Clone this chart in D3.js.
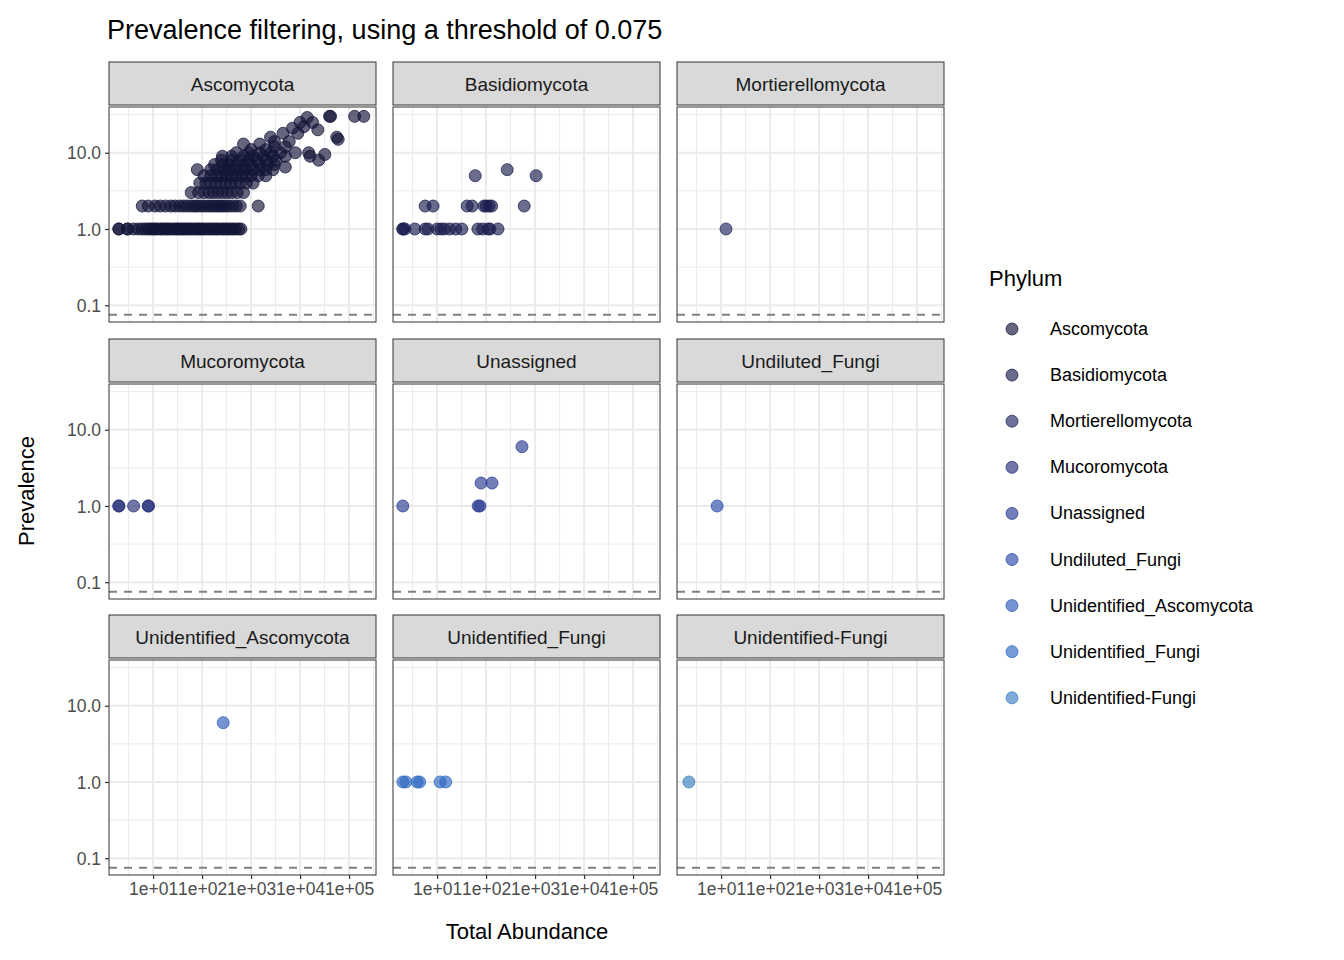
<!DOCTYPE html>
<html>
<head>
<meta charset="utf-8">
<script src="https://cdn.jsdelivr.net/npm/d3@7"></script>
<style>
  body { margin: 0; background: #fff; }
  text { font-family: "Liberation Sans", Arial, sans-serif; }
</style>
</head>
<body>
<svg id="chart" width="1344" height="960"></svg>
<script>
const phyla = ["Ascomycota", "Basidiomycota", "Mortierellomycota", "Mucoromycota", "Unassigned",
  "Undiluted_Fungi", "Unidentified_Ascomycota", "Unidentified_Fungi", "Unidentified-Fungi"];
const phylumColors = ["#131438", "#1a1d4e", "#202763", "#252f78", "#293a92", "#2b48aa", "#2c5bbb", "#2c68c2", "#3a7fc2"];
const xTicks = [10, 100, 1000, 10000, 100000];
const xTickLabels = ["1e+01", "1e+02", "1e+03", "1e+04", "1e+05"];
const yTicks = [0.1, 1, 10];
const yTickLabels = ["0.1", "1.0", "10.0"];
const threshold = 0.075;

// [total abundance, prevalence]
const ascomycota = [
  [2,1],[2,1],[3,1],[3,1],[4,1],[5,1],[6,1],[7,1],[8,1],[9,1],[10,1],[11,1],[12,1],[14,1],[15,1],[17,1],
  [19,1],[21,1],[24,1],[27,1],[30,1],[33,1],[37,1],[41,1],[45,1],[50,1],[56,1],[62,1],[70,1],[78,1],
  [85,1],[95,1],[105,1],[120,1],[135,1],[150,1],[170,1],[190,1],[210,1],[240,1],[270,1],[300,1],
  [340,1],[380,1],[430,1],[480,1],[560,1],[620,1],
  [6,2],[8,2],[11,2],[14,2],[18,2],[23,2],[28,2],[35,2],[42,2],[50,2],[60,2],[70,2],[80,2],[95,2],
  [110,2],[130,2],[150,2],[175,2],[200,2],[230,2],[260,2],[300,2],[350,2],[420,2],[500,2],[600,2],[1400,2],
  [60,3],[85,3],[110,3],[140,3],[170,3],[210,3],[260,3],[320,3],[400,3],[520,3],[700,3],
  [90,4],[120,4],[150,4],[190,4],[240,4],[300,4],[380,4],[480,4],[600,4],[800,4],[1100,4],
  [110,5],[150,5],[200,5],[250,5],[320,5],[400,5],[500,5],[650,5],[800,5],[1000,5],[1400,5],[2000,5],
  [80,6],[150,6],[200,6],[280,6],[350,6],[450,6],[600,6],[800,6],[1100,6],[1500,6],[2000,6],[2800,6],[5000,6.5],
  [180,7],[260,7],[350,7],[500,7],[700,7],[1000,7],[1500,7],[2200,7],[3000,7],
  [250,8],[400,8],[600,8],[900,8],[1300,8],[2000,8],[3200,8],
  [260,9],[400,9],[700,9],[1100,9],[1800,9],[2800,9],[5000,9],[16000,9],[32000,9.5],
  [500,10],[900,10],[1500,10],[2500,10],[4000,10],[8000,10],[15000,10],[24000,8],
  [1000,11],[2000,11],[3000,12],[5000,12],[700,13],[1500,13],[3000,14],[6000,14],[2500,16],[4500,18],
  [56000,16],[60000,15],[7000,21],[10000,25],[14000,29],[18000,25],[23000,20],[40000,30],[42000,30],
  [130000,30],[200000,30],[9000,18],[12000,22]
];
const basidiomycota = [
  [2,1],[2,1],[2.2,1],[3.5,1],[5.7,1],[6.5,1],[10,1],[12,1],[14,1],[18,1],[24,1],[32,1],[68,1],[85,1],
  [110,1],[120,1],[175,1],
  [5.7,2],[8.3,2],[41,2],[52,2],[91,2],[100,2],[115,2],[130,2],[600,2],
  [60,5],[1050,5],[270,6]
];
const mortierellomycota = [[12.6,1]];
const mucoromycota = [[2,1],[2,1],[4,1],[8,1],[8,1]];
const unassigned = [[2,1],[69,1],[75,1],[79,2],[132,2],[540,6]];
const undilutedFungi = [[8.3,1]];
const unidentifiedAscomycota = [[270,6]];
const unidentifiedFungi = [[2,1],[2.3,1],[3.9,1],[4.4,1],[11.5,1],[15,1]];
const unidentifiedFungiDash = [[2.2,1]];
const panelData = [ascomycota, basidiomycota, mortierellomycota, mucoromycota, unassigned,
  undilutedFungi, unidentifiedAscomycota, unidentifiedFungi, unidentifiedFungiDash];

const svg = d3.select("#chart");
const colX = [109, 393, 677], panelW = 267;
const rowTop = [62, 339, 615], stripH = 43, panelH = 215;

const x = d3.scaleLog().domain([Math.pow(10, 0.1), Math.pow(10, 5.55)]).range([0, panelW]);
const y = d3.scaleLog().domain([Math.pow(10, -1.22), Math.pow(10, 1.6)]).range([panelH, 0]);
const xMinor = [0.5, 1.5, 2.5, 3.5, 4.5, 5.5].map(e => Math.pow(10, e));
const yMinor = [-0.5, 0.5, 1.5].map(e => Math.pow(10, e));

svg.append("text").attr("x", 107).attr("y", 39).attr("font-size", 27).attr("fill", "#000")
  .text("Prevalence filtering, using a threshold of 0.075");

phyla.forEach((p, i) => {
  const col = i % 3, row = Math.floor(i / 3);
  const g = svg.append("g").attr("transform", `translate(${colX[col]},${rowTop[row]})`);
  g.append("rect").attr("width", panelW).attr("height", stripH)
    .attr("fill", "#d9d9d9").attr("stroke", "#333").attr("stroke-width", 1);
  g.append("text").attr("x", panelW / 2).attr("y", stripH / 2 + 7).attr("text-anchor", "middle")
    .attr("font-size", 19).attr("fill", "#1a1a1a").text(p);

  const pg = g.append("g").attr("transform", `translate(0,${stripH + 2})`);
  pg.append("defs").append("clipPath").attr("id", "clip" + i)
    .append("rect").attr("width", panelW).attr("height", panelH);
  const grid = pg.append("g");
  grid.selectAll(".xm").data(xMinor).join("line")
    .attr("x1", d => x(d)).attr("x2", d => x(d)).attr("y1", 0).attr("y2", panelH)
    .attr("stroke", "#ebebeb").attr("stroke-width", 1);
  grid.selectAll(".ym").data(yMinor).join("line")
    .attr("y1", d => y(d)).attr("y2", d => y(d)).attr("x1", 0).attr("x2", panelW)
    .attr("stroke", "#ebebeb").attr("stroke-width", 1);
  grid.selectAll(".xM").data(xTicks).join("line")
    .attr("x1", d => x(d)).attr("x2", d => x(d)).attr("y1", 0).attr("y2", panelH)
    .attr("stroke", "#ebebeb").attr("stroke-width", 2);
  grid.selectAll(".yM").data(yTicks).join("line")
    .attr("y1", d => y(d)).attr("y2", d => y(d)).attr("x1", 0).attr("x2", panelW)
    .attr("stroke", "#ebebeb").attr("stroke-width", 2);

  pg.append("line").attr("x1", 0).attr("x2", panelW).attr("y1", y(threshold)).attr("y2", y(threshold))
    .attr("stroke", "#808080").attr("stroke-width", 2).attr("stroke-dasharray", "8,7");

  pg.append("g").attr("clip-path", `url(#clip${i})`).selectAll("circle").data(panelData[i]).join("circle")
    .attr("cx", d => x(d[0])).attr("cy", d => y(d[1])).attr("r", 6)
    .attr("fill", phylumColors[i]).attr("fill-opacity", 0.65)
    .attr("stroke", phylumColors[i]).attr("stroke-opacity", 0.75).attr("stroke-width", 1);

  pg.append("rect").attr("width", panelW).attr("height", panelH)
    .attr("fill", "none").attr("stroke", "#333").attr("stroke-width", 1);

  if (col === 0) {
    const ya = pg.append("g").call(d3.axisLeft(y).tickValues(yTicks).tickFormat((d, k) => yTickLabels[k]).tickSize(4).tickPadding(4));
    ya.select(".domain").remove();
    ya.selectAll("line").attr("stroke", "#333").attr("stroke-width", 1.2);
    ya.selectAll("text").attr("font-size", 17.5).attr("fill", "#4d4d4d").attr("dy", "0.35em")
      .style("font-family", "'Liberation Sans', Arial, sans-serif");
  }
  if (row === 2) {
    const xa = pg.append("g").attr("transform", `translate(0,${panelH})`)
      .call(d3.axisBottom(x).tickValues(xTicks).tickFormat((d, k) => xTickLabels[k]).tickSize(4).tickPadding(4));
    xa.select(".domain").remove();
    xa.selectAll("line").attr("stroke", "#333").attr("stroke-width", 1.2);
    xa.selectAll("text").attr("font-size", 17.5).attr("fill", "#4d4d4d")
      .style("font-family", "'Liberation Sans', Arial, sans-serif");
  }
});

svg.append("text").attr("x", 527).attr("y", 939).attr("text-anchor", "middle")
  .attr("font-size", 22).attr("fill", "#000").text("Total Abundance");
svg.append("text").attr("transform", "translate(34,491) rotate(-90)").attr("text-anchor", "middle")
  .attr("font-size", 22).attr("fill", "#000").text("Prevalence");

const legend = svg.append("g").attr("transform", "translate(989,0)");
legend.append("text").attr("x", 0).attr("y", 286).attr("font-size", 22).text("Phylum");
phyla.forEach((p, i) => {
  const yy = 329 + i * 46.1;
  legend.append("circle").attr("cx", 23).attr("cy", yy).attr("r", 6)
    .attr("fill", phylumColors[i]).attr("fill-opacity", 0.65)
    .attr("stroke", phylumColors[i]).attr("stroke-opacity", 0.75);
  legend.append("text").attr("x", 61).attr("y", yy + 6).attr("font-size", 18).attr("fill", "#000").text(p);
});
</script>
</body>
</html>
